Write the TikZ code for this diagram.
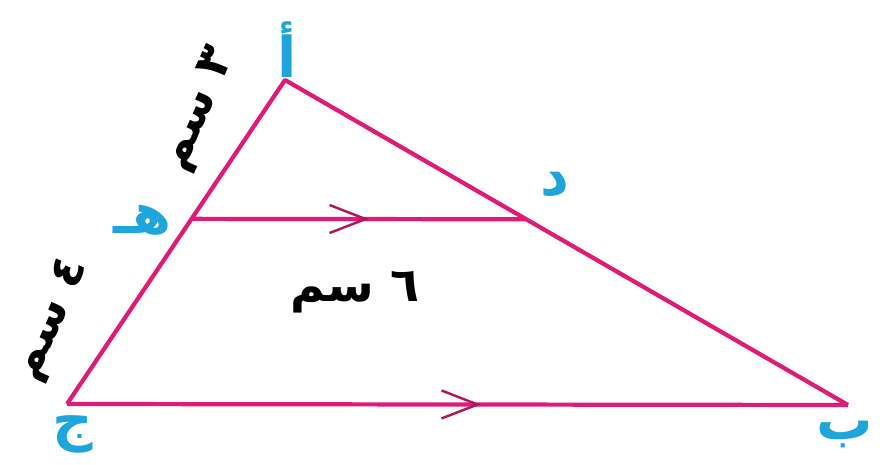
\documentclass[tikz,border=0pt]{standalone}
\usepackage{fontspec}
\newfontfamily\arabicfont[Script=Arabic]{DejaVu Sans}
\TeXXeTstate=1
\usetikzlibrary{calc,arrows.meta,decorations.markings}
\definecolor{side}{RGB}{222,28,120}
\definecolor{lettr}{RGB}{30,165,220}
\newcommand{\arb}[1]{{\arabicfont\beginR #1\endR}}
\tikzset{
  edge/.style={side,line width=2.4pt,line join=round},
  par/.style={edge,postaction={decorate},decoration={markings,
    mark=at position 0.53 with {\arrow[side!80!black,line width=1.4pt]{Straight Barb[length=0.72cm,width=0.56cm]}}}},
  vertex/.style={text=lettr,font=\fontsize{32}{36}\selectfont\bfseries},
  len/.style={text=black,font=\fontsize{27}{30}\selectfont\bfseries}
}
\begin{document}
\begin{tikzpicture}
\useasboundingbox (0,0) rectangle (17.6,9.3);
\coordinate (A) at (5.7,7.7);
\coordinate (C) at (1.34,1.22);
\coordinate (B) at (16.96,1.2);
\coordinate (H) at ($(A)!3/7!(C)$);
\coordinate (D) at ($(A)!3/7!(B)$);
\draw[edge] (C)--(A)--(B); %sides
\draw[par] (H)--(D);
\draw[par] (C)--(B);
% letters
\node[vertex] (lA) at (5.74,8.3) {\arb{أ}};
\node[vertex] (lD) at (11.1,5.6) {\arb{د}};
\node[vertex] (lH) at (2.85,4.9) {\arb{هـ}};
\node[vertex] (lC) at (1.45,0.62) {\arb{ج}};
\node[vertex] (lB) at (16.9,0.6) {\arb{ب}};
% lengths
\node[len,rotate=66] (l3) at (4.0,7.1) {\arb{٣ سم}};
\node[len,rotate=66] (l4) at (1.05,2.9) {\arb{٤ سم}};
\node[len] (l6) at (7.1,3.46) {\arb{٦ سم}};
\end{tikzpicture}
\end{document}
